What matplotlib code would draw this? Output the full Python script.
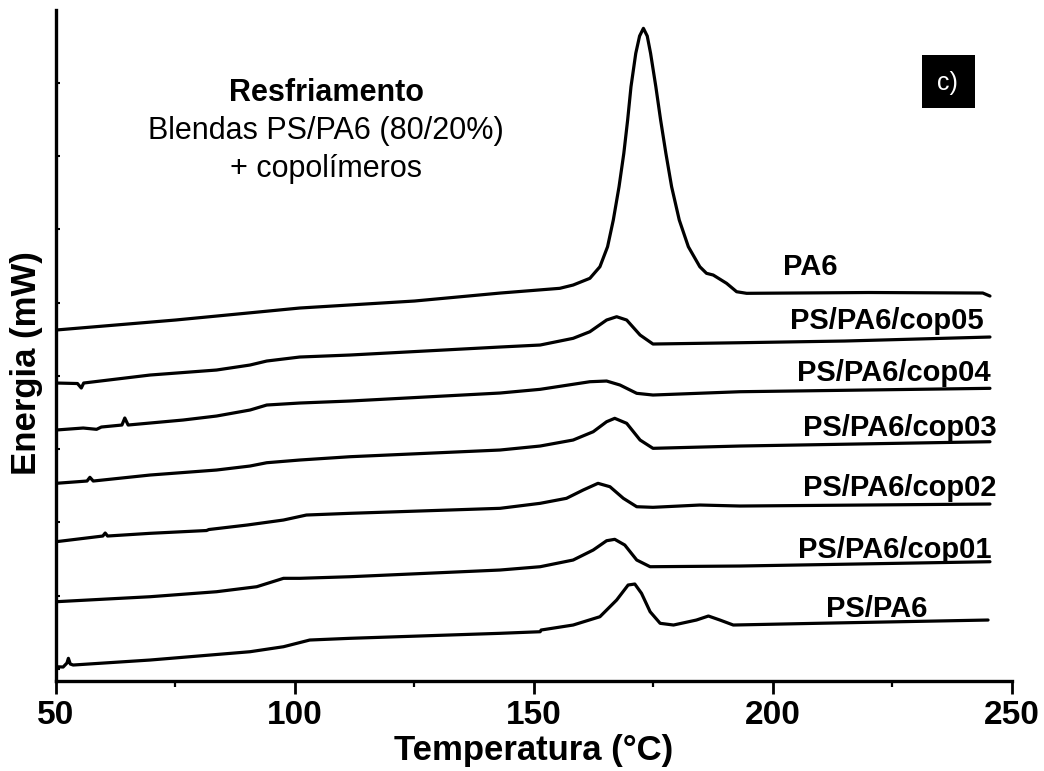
import numpy as np
import matplotlib.pyplot as plt
from matplotlib.patches import Rectangle

plt.rcParams['font.family'] = ['Liberation Sans', 'DejaVu Sans']

# DSC cooling curves (temperature in °C, energy in arbitrary offset units)
t_pa6 = [50, 75, 101, 125, 143, 155.4, 158.2, 161.7, 163.8, 165.4, 166.6, 167.8, 168.8, 169.6,
         170.3, 171.3, 172.1, 172.9, 173.7, 174.4, 175.5, 176.5, 177.6, 178.8, 180.4, 182.3,
         184.7, 186.1, 187.5, 190.3, 192.4, 194.5, 220, 243.9, 245.4]
e_pa6 = [351, 361, 373, 380, 388, 392.7, 396, 402.7, 414.3, 434.3, 461, 494.3, 527.7, 561,
         594.3, 627.7, 645, 652.7, 645, 627.7, 594.3, 561, 527.7, 494.3, 461, 434.3,
         414.3, 407.7, 406, 397.7, 389.3, 387.7, 388.5, 388, 385]

t_cop05 = [50, 54.5, 55.3, 55.8, 69.7, 83.6, 90.6, 94.1, 101, 111.5, 142.9, 151.3, 158.2, 161.7,
           165.2, 167.3, 169.4, 172.2, 174.9, 193.1, 215, 245.4]
e_cop05 = [298, 297.5, 293, 298, 306, 311, 316, 320, 324, 326, 334, 336, 342.7, 349.3,
           361, 364.3, 361, 346, 337, 338.3, 340, 344]

t_cop04 = [50, 55.7, 58.5, 59.5, 63.8, 64.4, 65.1, 76.6, 83.6, 90.6, 94.1, 101, 111.5, 142.9,
           151.3, 161.7, 165.2, 168, 171.5, 174.9, 193.1, 245.4]
e_cop04 = [251, 253, 251.7, 254, 256, 263, 256, 261, 265, 271, 276, 278, 280, 288,
           291.7, 299.3, 300, 296, 287.7, 286, 289.3, 292.7]

t_cop03 = [50, 56.5, 57.1, 57.8, 69.7, 83.6, 90.6, 94.1, 101, 111.5, 142.9, 151.3, 158.2, 162.4,
           165.2, 166.9, 169.4, 172.2, 174.9, 193.1, 245.4]
e_cop03 = [197.7, 200, 203.7, 200, 206, 211, 215, 218.3, 221, 224.3, 231, 235, 241, 249.3,
           259.3, 262.7, 257.7, 241, 232.7, 235, 239.3]

t_cop02 = [50, 59.8, 60.3, 60.8, 69.7, 81.5, 82, 90, 97.6, 102.4, 111.5, 142.9, 151.3, 156.8,
           160.3, 163.4, 165.9, 168.7, 171.5, 174.9, 184.7, 193.1, 245.4]
e_cop02 = [139.3, 145, 148, 145, 147.7, 150.5, 151.5, 156, 161, 166, 167.7, 172.7, 177.7, 182.7,
           191, 197.7, 194.3, 182.7, 174.3, 173.7, 176, 175, 177]

t_cop01 = [50, 69.7, 83.6, 92, 97.6, 101, 111.5, 142.9, 151.3, 158.2, 162.4, 165.2, 166.9,
           169, 171.5, 174.3, 193.1, 245.4]
e_cop01 = [79.3, 84.3, 89.3, 94.3, 102.7, 102.7, 104.3, 111, 114.3, 121, 131, 140.3, 141.7,
           136, 121, 114.3, 115, 119.3]

t_pspa6 = [50, 51.5, 52.3, 52.6, 53, 53.6, 69.7, 90.6, 97.6, 103.1, 111.5, 142.9, 151.3, 151.5,
           158.2, 163.8, 167.3, 169.7, 171.1, 172.5, 174.3, 176.4, 179.2, 184, 186.5, 188.9,
           191.7, 209.1, 245]
e_pspa6 = [14.3, 14, 18, 22.7, 17, 16, 21, 29.3, 34.3, 41, 42.7, 47.7, 49.3, 51,
           56, 64.3, 81, 96, 97, 87.7, 69.3, 57.7, 56, 61, 65, 61,
           56, 57.7, 61]

curves = [(t_pa6, e_pa6), (t_cop05, e_cop05), (t_cop04, e_cop04), (t_cop03, e_cop03),
          (t_cop02, e_cop02), (t_cop01, e_cop01), (t_pspa6, e_pspa6)]

labels = ["PA6", "PS/PA6/cop05", "PS/PA6/cop04", "PS/PA6/cop03",
          "PS/PA6/cop02", "PS/PA6/cop01", "PS/PA6"]
label_x = [207.7, 223.8, 225.2, 226.6, 226.6, 225.4, 221.7]
label_y = [414, 360, 308.5, 253.5, 193.5, 131, 72]

fig = plt.figure(figsize=(10.44, 7.71), dpi=100)
ax = fig.add_axes([0.0536, 0.1167, 0.9157, 0.8703])

for t, e in curves:
    ax.plot(t, e, color='black', lw=2.3, solid_joinstyle='round', solid_capstyle='round')

for lab, x, y in zip(labels, label_x, label_y):
    ax.text(x, y, lab, ha='center', va='center', fontsize=21, fontweight='bold')

# annotation
ax.text(106.5, 580, "Resfriamento", ha='center', va='baseline', fontsize=22, fontweight='bold')
ax.text(106.5, 542, "Blendas PS/PA6 (80/20%)", ha='center', va='baseline', fontsize=22)
ax.text(106.5, 504, "+ copolímeros", ha='center', va='baseline', fontsize=22)

# panel tag
ax.add_patch(Rectangle((231.2, 573), 11.1, 53, facecolor='black', edgecolor='none'))
ax.text(236.6, 598, "c)", color='white', ha='center', va='center', fontsize=18)

ax.set_xlim(50, 250)
ax.set_ylim(0, 671)
ax.set_xticks([50, 100, 150, 200, 250])
ax.set_xticks([75, 125, 175, 225], minor=True)
ax.set_yticks(np.arange(12, 671, 73.3))
ax.tick_params(axis='x', which='major', direction='out', length=9.5, width=2, labelsize=24, pad=4)
ax.tick_params(axis='x', which='minor', direction='out', length=4.5, width=1.6)
ax.tick_params(axis='y', which='major', direction='in', length=3, width=1.5, labelleft=False)
for lab in ax.get_xticklabels():
    lab.set_fontweight('bold')

for side in ['top', 'right']:
    ax.spines[side].set_visible(False)
for side in ['left', 'bottom']:
    ax.spines[side].set_linewidth(2.4)

ax.set_xlabel("Temperatura (°C)", fontsize=25, fontweight='bold', labelpad=2)
ax.set_ylabel("Energia (mW)", fontsize=25, fontweight='bold')
ax.yaxis.set_label_coords(-0.0136, 0.474)

fig.savefig("out.png", dpi=100)
